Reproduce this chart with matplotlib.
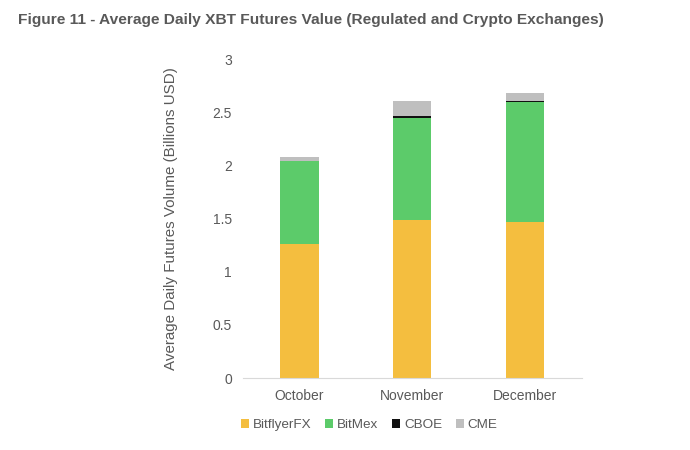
import numpy as np
import matplotlib.pyplot as plt

plt.rcParams['font.family'] = ['Liberation Sans', 'DejaVu Sans']

# data (billions USD)
months = ['October', 'November', 'December']
bitflyer = [1.26, 1.49, 1.47]
bitmex = [0.79, 0.96, 1.13]
cboe = [0.0, 0.02, 0.01]
cme = [0.03, 0.14, 0.08]

series = [('BitflyerFX', bitflyer, '#F4BE3F'),
          ('BitMex', bitmex, '#5CCB6A'),
          ('CBOE', cboe, '#111111'),
          ('CME', cme, '#BFBFBF')]

txt = '#595959'

fig = plt.figure(figsize=(6.9, 4.5), dpi=100)
ax = fig.add_axes([0.352, 0.16, 0.491, 0.707])

x = np.arange(len(months))
bottom = np.zeros(len(months))
for name, vals, col in series:
    ax.bar(x, vals, width=0.34, bottom=bottom, color=col, label=name)
    bottom += np.array(vals)

ax.set_xlim(-0.5, 2.5)
ax.set_ylim(0, 3)
ax.set_yticks([0, 0.5, 1, 1.5, 2, 2.5, 3])
ax.set_yticklabels(['0', '0.5', '1', '1.5', '2', '2.5', '3'])
ax.set_xticks(x)
ax.set_xticklabels(months)
ax.tick_params(axis='both', length=0, labelsize=10, colors=txt, pad=8)
for s in ['top', 'right', 'left']:
    ax.spines[s].set_visible(False)
ax.spines['bottom'].set_color('#D9D9D9')

ax.set_ylabel('Average Daily Futures Volume (Billions USD)', fontsize=10.9,
              color=txt, labelpad=25)

fig.text(0.026, 0.955, 'Figure 11 - Average Daily XBT Futures Value (Regulated and Crypto Exchanges)',
         fontsize=11.15, fontweight='bold', color=txt, va='center')

leg = fig.legend(loc='center', bbox_to_anchor=(0.535, 0.055), ncol=4, frameon=False,
                 fontsize=9.7, handlelength=0.6, handleheight=0.6, handletextpad=0.3,
                 columnspacing=1.0)
for t in leg.get_texts():
    t.set_color(txt)

fig.savefig('out.png', dpi=100)
